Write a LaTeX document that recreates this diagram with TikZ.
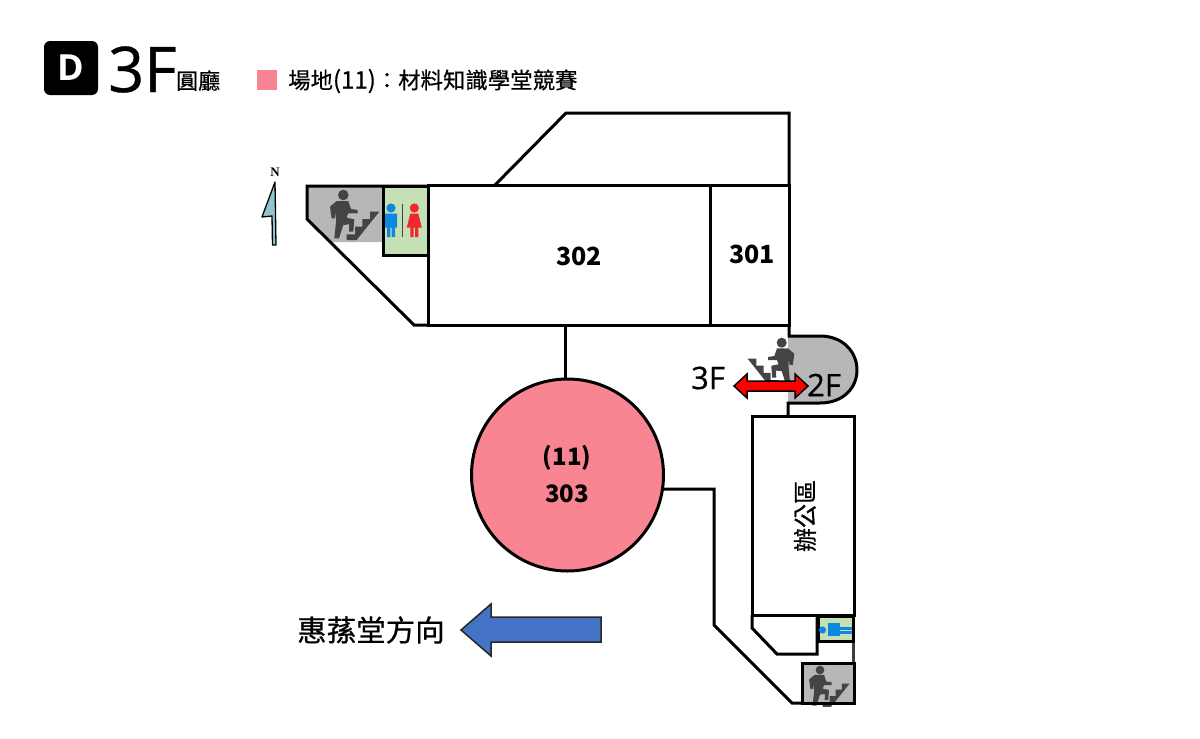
\documentclass[tikz,border=0pt]{standalone}
\usepackage{fontspec}
\setmainfont{Noto Sans CJK TC}
\newfontfamily\serifb{Liberation Serif}
\newfontfamily\latinf[FakeBold=0.6]{Open Sans}
\newfontfamily\latinb{Open Sans}
\newfontfamily\cjkb[FakeBold=0.6]{Noto Sans CJK TC}
\definecolor{pinkc}{HTML}{F98492}
\definecolor{greyc}{HTML}{B7B7B7}
\definecolor{greenc}{HTML}{C5E0B4}
\definecolor{figc}{HTML}{444444}
\definecolor{bluep}{HTML}{0F86E0}
\definecolor{redp}{HTML}{F0282D}
\definecolor{arrowb}{HTML}{4472C4}
\definecolor{compassc}{HTML}{8FC5D0}
\newcommand{\fs}[1]{\fontsize{#1}{#1}\selectfont}
\tikzset{
 wall/.style={draw=black,line width=3pt,line join=miter},
 lbl/.style={inner sep=0pt,font=\fs{25}\bfseries,align=center},
 reg/.style={inner sep=0pt,anchor=base west},
}
\newcommand{\stairman}{%
 \fill[figc] (0,0) circle (5.3);
 \fill[figc] (-13.3,11.7) -- (-6.7,6) -- (5,6) -- (7.7,14) -- (14.3,15) -- (14.3,18.3) -- (5,18.3) -- (3.3,22.7) -- (11,24.3) -- (10,36.7) -- (5.7,36.7) -- (6,29.3) -- (0,30) -- (-4.3,43.3) -- (-9,43.3) -- (-7.3,26.7) -- (-7.3,16.7) -- (-8.3,23.3) -- (-11.7,23.3) -- cycle;
 \fill[figc] (3.3,45) -- (3.3,39.3) -- (11.7,39.3) -- (11.7,31.7) -- (19,31.7) -- (19,24) -- (26.7,24) -- (26.7,16.7) -- (36,16.7) -- (13.3,45) -- cycle;
}
\newcommand{\manicon}[1]{%
 \fill[#1] (0,0) circle (4.6);
 \fill[#1] (-6,5.5) -- (6,5.5) -- (6,19.5) -- (4,19.5) -- (4,29) -- (0.7,29) -- (0.7,19.5) -- (-0.7,19.5) -- (-0.7,29) -- (-4,29) -- (-4,19.5) -- (-6,19.5) -- cycle;
}
\newcommand{\womanicon}[1]{%
 \fill[#1] (0,0) circle (4.6);
 \fill[#1] (-4,5.5) -- (4,5.5) -- (7.5,19.5) -- (4,19.5) -- (4,29) -- (0.7,29) -- (0.7,19.5) -- (-0.7,19.5) -- (-0.7,29) -- (-4,29) -- (-4,19.5) -- (-7.5,19.5) -- cycle;
}
\begin{document}
\begin{tikzpicture}[x=1pt,y=-1pt]
\useasboundingbox (0,0) rectangle (1200,739);
% header
\fill[black,rounded corners=6pt] (44,41) rectangle (98,95);
\node[inner sep=0pt,text=white,font=\fs{36}\latinb\bfseries] (d) at (71,68) {D};
\node[reg,font=\fs{63}\latinf] (floor) at (108,92) {3F};
\node[reg,font=\fs{22}\cjkb] (hall) at (176,89) {圓廳};
\fill[pinkc] (257,70) rectangle (277,90);
\node[reg,font=\fs{22.4}\cjkb] (legend) at (288,88.5) {場地{\fs{24}(11)}：材料知識學堂競賽};
% compass
\draw[black,line width=1.3pt,fill=compassc,line join=round] (275,182) -- (262,217) -- (272,216) -- (272.5,245) -- (276,245) -- cycle;
\node[inner sep=0pt,font=\fs{13}\serifb\bfseries] (north) at (275,172) {N};
% west stair
\fill[greyc] (307,186) -- (382,186) -- (382,242) -- (331,242) -- (307,219) -- cycle;
\begin{scope}[shift={(343.3,195)}] \stairman \end{scope}
\draw[wall] (428,325) -- (414,325) -- (307,219) -- (307,186) -- (428,186);
% toilets
\draw[wall,fill=greenc] (383,186) rectangle (428,255);
\begin{scope}[shift={(391,208)}] \manicon{bluep} \end{scope}
\draw[line width=1pt,figc] (402.7,204) -- (402.7,237);
\begin{scope}[shift={(414.3,208)}] \womanicon{redp} \end{scope}
% main block
\draw[wall] (428,185) rectangle (789,325);
\draw[wall] (710,185) -- (710,325);
\draw[wall] (495,185) -- (566,113) -- (789,113) -- (789,185);
\node[lbl] (r302) at (579,256) {302};
\node[lbl] (r301) at (752,254) {301};
% circle hall
\node[circle,draw=black,line width=3pt,fill=pinkc,minimum size=192pt,inner sep=0pt] (hallc) at (567.5,475) {};
\node[lbl,font=\fs{24}\bfseries] (n11) at (567,458) {(11)};
\node[lbl,font=\fs{24}\bfseries] (r303) at (567,494) {303};
\coordinate (stem) at (565,325);
\coordinate (hallside) at (662,489);
\draw[wall] (stem) -- (hallc.north -| stem);
\draw[wall] (hallside) -- (714,489) -- (714,625) -- (792,703) -- (802,703);
% east stair
\fill[greyc] (788,336) -- (820,336) .. controls (843,336) and (857,352) .. (857,370) .. controls (857,388) and (843,403) .. (820,403) -- (788,403) -- cycle;
\draw[wall] (789,325) -- (789,336) -- (820,336) .. controls (843,336) and (857,352) .. (857,370) .. controls (857,388) and (843,403) .. (820,403) -- (788,403) -- (788,416);
\begin{scope}[shift={(781.7,342.7)},xscale=-0.95,yscale=0.95] \stairman \end{scope}
\draw[black,line width=1.5pt,fill=red,line join=miter] (734,386) -- (747,374) -- (747,381) -- (795,381) -- (795,374) -- (808,386) -- (795,398) -- (795,391) -- (747,391) -- (747,398) -- cycle;
\node[inner sep=0pt,font=\fs{31}\latinf] (f3) at (708,378) {3F};
\node[inner sep=0pt,font=\fs{31}\latinf] (f2) at (824,385) {2F};
% offices
\draw[wall] (752,416) rectangle (854,615);
\node[inner sep=0pt,rotate=90,font=\fs{24}\cjkb] (office) at (805,516) {辦公區};
\draw[wall] (752,615) -- (752,628) -- (777,654) -- (817,654) -- (817,615);
\draw[line width=3pt,draw=black!75] (853.5,615) -- (853.5,663);
\draw[line width=3pt,draw=black,fill=greenc] (818,616) rectangle (853,641.5);
\fill[bluep] (822.5,630) circle (3.6);
\fill[bluep] (828,623) rectangle (840,636);
\fill[bluep] (840,626.5) rectangle (851.5,629.5);
\fill[bluep] (840,631) rectangle (851.5,634);
\fill[greyc] (802,663) rectangle (854,703);
\begin{scope}[shift={(820,670)},scale=0.82] \stairman \end{scope}
\draw[wall] (802,663) rectangle (854,703);
% direction arrow
\node[inner sep=0pt,font=\fs{29.5}\cjkb] (dir) at (371,630) {惠蓀堂方向};
\draw[line width=1.5pt,draw=black!85,fill=arrowb,line join=miter] (461,630) -- (491,604) -- (491,617) -- (601,617) -- (601,642) -- (491,642) -- (491,656) -- cycle;
\end{tikzpicture}
\end{document}
